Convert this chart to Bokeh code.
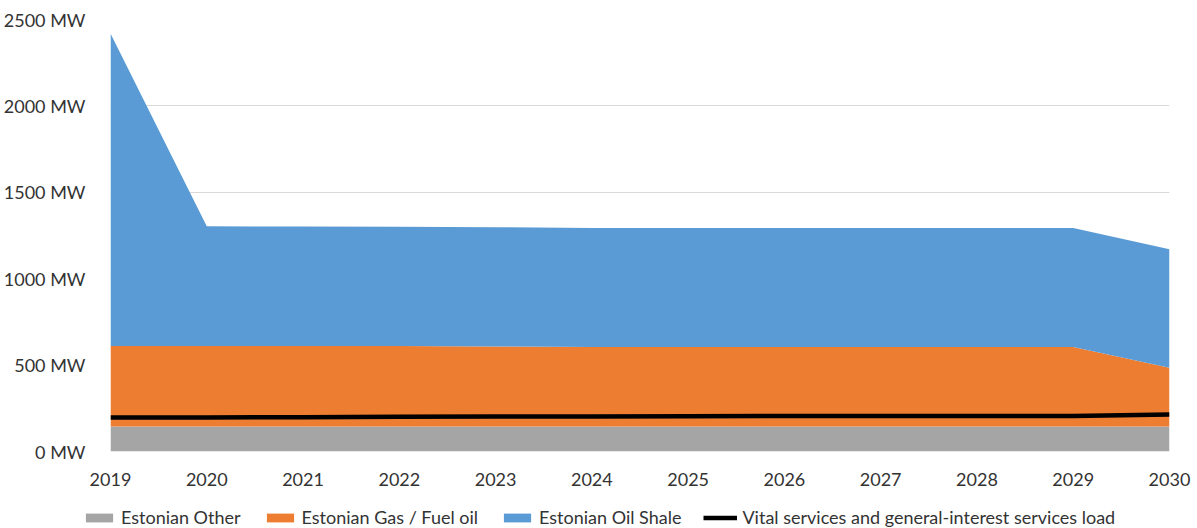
from bokeh.plotting import figure
from bokeh.layouts import column
from bokeh.models import Range1d, FixedTicker, Legend, LegendItem, ColumnDataSource
from bokeh.embed import file_html
from bokeh.resources import INLINE

years = [2019, 2020, 2021, 2022, 2023, 2024, 2025, 2026, 2027, 2028, 2029, 2030]
estonian_other = [145, 145, 145, 145, 145, 145, 145, 145, 145, 145, 145, 145]
estonian_gas = [465, 465, 465, 465, 463, 460, 460, 460, 460, 460, 460, 339]
estonian_shale = [1809, 693, 692, 690, 690, 689, 689, 688, 688, 688, 688, 686]
vital_load = [197, 197, 198, 201, 203, 203, 204, 205, 205, 205, 206, 214]
y_ticks = [0, 500, 1000, 1500, 2000, 2500]
y_tick_labels = ["0 MW", "500 MW", "1000 MW", "1500 MW", "2000 MW", "2500 MW"]
series_names = ["Estonian Other", "Estonian Gas / Fuel oil", "Estonian Oil Shale",
                "Vital services and general-interest services load"]
series_colors = ["#a5a5a5", "#ed7d31", "#5b9bd5", "black"]

src = ColumnDataSource(dict(x=years, other=estonian_other, gas=estonian_gas,
                            shale=estonian_shale, load=vital_load))

FONT = "Lato"
TXT = "#333333"

p = figure(width=1197, height=496, output_backend="svg", toolbar_location=None,
           x_range=Range1d(2019, 2030), y_range=Range1d(0, 2500),
           min_border_left=108, min_border_right=28, min_border_top=19,
           min_border_bottom=45)
p.outline_line_color = None
p.frame_align = False

areas = p.varea_stack(["other", "gas", "shale"], x="x", source=src,
                      color=series_colors[:3])
ln = p.line("x", "load", source=src, line_color=series_colors[3], line_width=4.5)

p.xgrid.grid_line_color = None
p.ygrid.grid_line_color = "#d9d9d9"
p.ygrid.grid_line_width = 1
p.ygrid.level = "underlay"

p.yaxis.ticker = FixedTicker(ticks=y_ticks)
p.yaxis.major_label_overrides = {t: l for t, l in zip(y_ticks, y_tick_labels)}
p.xaxis.ticker = FixedTicker(ticks=years)
p.xaxis.major_label_overrides = {y: str(y) for y in years}
for ax in (p.xaxis[0], p.yaxis[0]):
    ax.axis_line_color = None
    ax.major_tick_line_color = None
    ax.minor_tick_line_color = None
    ax.major_label_text_font = FONT
    ax.major_label_text_font_size = "18px"
    ax.major_label_text_color = TXT
p.yaxis.major_label_standoff = 19
p.xaxis.major_label_standoff = 15

# legend strip below the chart (its proxy glyphs sit outside its visible range)
lg = figure(width=1197, height=32, output_backend="svg", toolbar_location=None,
            x_range=Range1d(0, 1), y_range=Range1d(0, 1),
            x_axis_location=None, y_axis_location=None,
            min_border_left=0, min_border_right=0, min_border_top=0,
            min_border_bottom=0)
lg.outline_line_color = None
lg.frame_align = False
lg.xgrid.grid_line_color = None
lg.ygrid.grid_line_color = None
proxy = ColumnDataSource(dict(x=[5, 6], y1=[5, 5], y2=[6, 6]))
dummy = [lg.varea(x="x", y1="y1", y2="y2", source=proxy, color=c) for c in series_colors[:3]]
dummy.append(lg.line(x="x", y="y1", source=proxy, line_color=series_colors[3], line_width=4.5))

legend = Legend(items=[LegendItem(label=n, renderers=[r]) for n, r in zip(series_names, dummy)],
                orientation="horizontal", location=(82, 0))
legend.padding = 0
legend.margin = 0
legend.spacing = 22
legend.label_standoff = 5
legend.glyph_width = 34
legend.glyph_height = 11
legend.label_height = 20
legend.label_text_font = FONT
legend.label_text_font_size = "18px"
legend.label_text_color = TXT
legend.border_line_color = None
legend.background_fill_alpha = 0
lg.add_layout(legend, "center")

layout = column(p, lg, spacing=0)
open("out.html", "w").write(file_html(layout, INLINE))
